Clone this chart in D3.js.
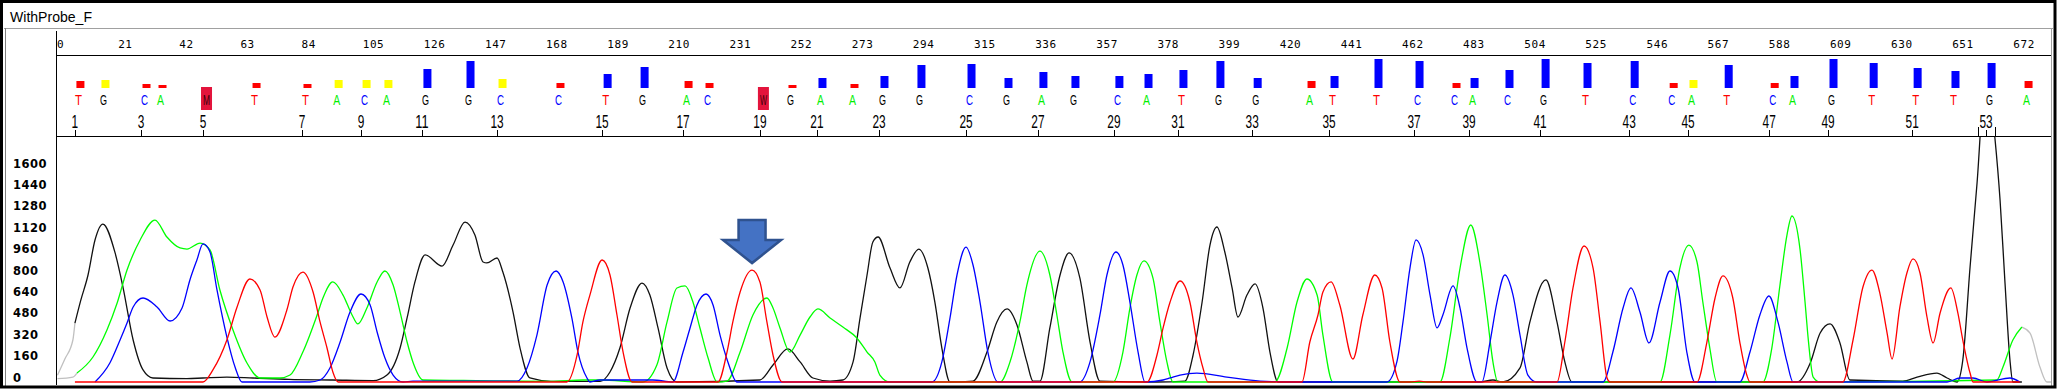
<!DOCTYPE html>
<html><head><meta charset="utf-8">
<script src="https://cdn.jsdelivr.net/npm/d3@7"></script>
<style>html,body{margin:0;padding:0;background:#fff;overflow:hidden}</style>
</head><body>
<svg id="c" width="2061" height="389"></svg>
<script>
// ---------------- data ----------------
const title = "WithProbe_F";
const rulerTicks = [0,21,42,63,84,105,126,147,168,189,210,231,252,273,294,315,336,357,378,399,420,441,462,483,504,525,546,567,588,609,630,651,672];
const yTicks = [0,160,320,480,640,800,960,1120,1280,1440,1600];
const bases = "TGCAMTTACAGGCCTGACWGAAGGCGAGCATGGATTCCACGTCCATCAGTTTGA".split("");
const basePos = [6.5,15.1,29.2,34.7,50.5,67.0,84.5,95.2,104.8,112.3,125.7,140.5,151.5,171.4,187.6,200.3,215.4,222.6,241.8,251.1,261.4,272.4,282.7,295.4,312.6,325.3,337.3,348.3,363.4,373.4,385.4,398.1,410.9,429.4,437.3,452.4,466.5,479.2,485.4,497.4,509.8,524.2,540.4,553.8,560.6,572.7,588.5,595.3,608.7,622.5,637.6,650.6,663.0,675.7];
const quality = [14,16,8,6,0,10,8,16,16,16,38,54,18,10,28,42,14,10,0,6,20,8,24,46,48,20,32,24,24,28,36,54,20,14,24,58,54,10,20,36,58,50,54,10,16,46,10,24,58,50,40,34,50,14];
const cursorScans = [660.3, 666.1];
const arrowPeak = [239.1, 837];

const traceG = [[6.5,440],[8.5,610],[11,800],[13.4,1062],[16.1,1181],[20.3,965],[23,710],[26.5,314],[29.9,90],[33.3,30],[45,25],[50.5,30],[58.7,37],[67.7,30],[80,20],[95,15],[108.9,10],[113.7,52],[118.2,254],[120.6,479],[123.3,748],[126.8,950],[132.6,867],[136.4,1024],[140.5,1196],[143.9,1099],[146.7,897],[148,890],[151.5,927],[153.5,822],[157,523],[159.4,254],[162.8,30],[170,5],[186.9,5],[190.3,75],[193.7,254],[197.2,553],[201.3,740],[204,650],[206.8,404],[209.9,105],[213.3,0],[241.8,15],[246.3,127],[251.4,247],[255.6,150],[260,30],[265.9,7],[270.3,15],[273.8,150],[276.2,479],[278.6,800],[280.6,1047],[282.4,1084],[286.5,852],[289.9,703],[293.3,897],[296.4,994],[299.5,852],[301.9,598],[304.3,254],[307.1,0],[315,7],[319.8,224],[323.2,449],[326.7,546],[330.1,426],[333.5,150],[335.6,7],[338,7],[341.4,404],[344.9,800],[348,965],[351.7,778],[355.2,299],[358.6,7],[378.2,0],[387.8,7],[390.6,202],[393.7,598],[396.4,1024],[398.8,1159],[401.5,972],[404,703],[406,486],[409.1,650],[411.9,733],[414.6,553],[417,224],[419.8,0],[489.1,0],[493.6,15],[497,0],[502.9,105],[506.3,449],[511.8,763],[515.6,449],[518.3,150],[520.7,0],[598.1,0],[602.6,142],[606,366],[609.4,434],[612.8,292],[616.2,15],[634.4,7],[639.3,37],[646.1,67],[649.6,30],[653,0],[655,164],[657.5,860],[659.9,1488],[663,2350],[666,1832],[667.8,1361],[669.5,740],[671.2,164],[672.2,0],[675.3,0]];

const traceA = [[7.2,67],[12.7,187],[17.5,389],[21,591],[24.4,837],[28.9,1062],[34,1211],[38.1,1084],[42.6,1002],[45,994],[49.5,1039],[52.9,987],[56.3,688],[60.8,389],[65.6,142],[70.1,30],[76.9,30],[80.4,52],[84.8,224],[89.7,501],[91.7,628],[95.1,748],[98.6,650],[101.7,501],[103.7,434],[106.8,553],[110.3,748],[113,830],[115.8,725],[118.2,523],[120.6,299],[122.6,150],[126.1,15],[140,12],[170,5],[181,15],[186.9,15],[201.6,0],[206.4,127],[209.9,449],[213.3,703],[216.1,718],[218.8,598],[221.2,404],[224,179],[227.1,0],[230.5,7],[235,224],[239.4,501],[244.2,628],[246.3,553],[248.7,404],[252.1,224],[255.6,351],[259,486],[261.7,546],[265.9,479],[270.3,411],[275.1,329],[278.6,224],[281.3,150],[283,52],[286.5,0],[324.3,0],[327.7,150],[331.1,449],[333.5,725],[338,979],[341.4,800],[343.8,501],[345.9,224],[349,0],[363.1,0],[366.5,224],[368.9,553],[371.3,800],[373.7,905],[376.8,778],[379.2,449],[381.6,150],[383.7,0],[418.7,0],[422.9,254],[426.3,598],[429.7,770],[433.2,650],[435.2,351],[438.6,0],[475.4,0],[478.8,329],[482.3,852],[486,1174],[489.1,897],[491.6,501],[493.6,150],[495.3,0],[551,0],[554.4,351],[557.8,852],[560.9,1024],[563.7,897],[565.7,598],[568.1,254],[570.5,0],[586.3,0],[589.4,254],[592.2,725],[594.6,1099],[596.3,1241],[599.1,990],[600.8,600],[602,300],[603.6,37],[606,0],[666.7,15],[668.8,112],[672.2,314],[675.3,411]];

const traceC = [[13.4,0],[18.5,142],[22,314],[24.4,441],[26.5,561],[29.9,628],[34.7,561],[39.2,456],[43.3,553],[46,763],[48.4,912],[50.5,1032],[52.9,972],[55.3,688],[58.7,336],[61.5,112],[63.9,0],[87.2,0],[90.7,15],[94.1,105],[97.6,299],[101,523],[104.8,658],[107.9,576],[110.3,374],[113,179],[115.8,52],[119.2,0],[122.6,7],[158.4,7],[161.8,105],[165.2,351],[168.7,725],[171.8,830],[174.2,748],[177.2,479],[179.3,224],[182.4,30],[183.4,0],[186.9,15],[205,15],[211.9,0],[215.4,224],[217.8,404],[220.2,576],[223.3,658],[225.7,576],[228.1,351],[230.8,150],[233.9,0],[300.9,0],[304.3,150],[307.1,479],[309.5,800],[312.6,1009],[315,875],[317.4,598],[320.1,224],[323.6,0],[351.7,0],[355.2,150],[358.6,501],[361,800],[364.1,972],[366.5,875],[368.9,598],[371.7,224],[374.1,0],[380.3,15],[382.7,30],[386.1,52],[391.9,67],[402.2,37],[413.6,7],[424.9,0],[457.2,0],[460.6,150],[462.7,449],[465.1,852],[467.2,1062],[469.6,950],[472,650],[474.4,404],[476.4,501],[479.9,718],[482.3,553],[484.7,254],[488.1,0],[489.8,0],[492.6,299],[495,598],[497.7,800],[500.5,650],[502.9,351],[505.6,52],[508.7,0],[531.4,0],[534.8,224],[538.3,553],[541,703],[544.1,523],[547.2,292],[551,598],[554.4,830],[557.2,703],[560.2,224],[563,0],[578.4,0],[581.9,224],[585.3,501],[588.4,643],[591.5,449],[594.6,150],[596.7,0],[649.6,0],[654,30],[658.5,30],[663.3,0],[671.2,30],[674.6,0]];

const traceT = [[6.5,0],[50.5,0],[53.9,90],[58.7,314],[62.2,561],[66.6,770],[70.1,688],[72.5,486],[75.2,336],[79.3,538],[81.4,710],[84.8,822],[88.3,673],[90.7,449],[93.1,254],[95.1,75],[96.9,0],[175.5,0],[179,202],[181,449],[183.4,650],[187.6,912],[190.3,800],[192.7,501],[194.8,224],[197.9,0],[227.4,0],[230.5,224],[232.5,449],[235,673],[239.1,837],[241.8,748],[244.2,449],[246.3,202],[249.4,0],[374.8,0],[378.2,202],[380.3,404],[382.7,598],[386.1,755],[389.5,598],[391.9,299],[394,105],[395.7,0],[428,0],[430.7,299],[433.5,501],[435.2,673],[438,748],[441,576],[445.5,172],[448.9,501],[453,800],[455.5,703],[458.2,299],[461.7,0],[465,0],[468.3,7],[471,0],[515.6,0],[518.3,299],[521.1,703],[524.9,1017],[528,852],[530.4,449],[532.8,30],[533.8,0],[563.7,0],[567.1,299],[569.9,628],[572.6,793],[576,628],[578.4,299],[580.8,52],[581.9,0],[613.8,0],[617.3,314],[620.7,710],[623.8,837],[626.5,665],[629,366],[630.7,172],[633.4,561],[635.8,815],[637.9,920],[640.3,815],[642.7,486],[644.8,292],[647.2,516],[650.9,703],[653.3,516],[655,314],[657.5,67],[658.5,0],[674.6,0]];

const trimmedG = [[0.5,50],[3,170],[5.8,314],[6.5,440]];
const trimmedA = [[0.5,25],[5.8,37],[7.2,67]];
const trimmedEnd = [[675.3,411],[678.1,366],[681.5,112],[683.9,0],[687,0]];

// ---------------- drawing ----------------
const svg = d3.select("#c");
const W = 2061, H = 389;
const plotL = 56, plotR = 2051, plotT = 136, plotB = 385;

const x = d3.scaleLinear().domain([0, 685.3]).range([plotL, plotR]);
const y = d3.scaleLinear().domain([0, 1600]).range([382, 168]);
const qh = d3.scaleLinear().domain([0, 60]).range([0, 30]);
const baseColor = {A:"#00ee00", C:"#0000ff", G:"#000000", T:"#ff0000"};
const qColor = q => q < 15 ? "#ff0000" : (q < 20 ? "#ffff00" : "#0000ff");

svg.append("rect").attr("width", W).attr("height", H).attr("fill", "#fff");

// inner frame lines
svg.append("line").attr("x1",4).attr("x2",2053).attr("y1",28.5).attr("y2",28.5).attr("stroke","#a0a0a0");
svg.append("line").attr("x1",5.5).attr("x2",5.5).attr("y1",28).attr("y2",386).attr("stroke","#808080");
svg.append("line").attr("x1",2051.5).attr("x2",2051.5).attr("y1",28).attr("y2",386).attr("stroke","#a0a0a0");

// title
svg.append("text").attr("x",10).attr("y",22).text(title)
  .attr("font-family","Liberation Sans, Arial, sans-serif").attr("font-size",14)
  .attr("textLength",82).attr("lengthAdjust","spacingAndGlyphs").attr("fill","#000");

// structural lines
svg.append("line").attr("x1",plotL+0.5).attr("x2",plotL+0.5).attr("y1",31).attr("y2",plotB).attr("stroke","#000");
svg.append("line").attr("x1",plotL).attr("x2",plotR).attr("y1",55.5).attr("y2",55.5).attr("stroke","#000");
svg.append("line").attr("x1",plotL).attr("x2",plotR).attr("y1",plotT+0.5).attr("y2",plotT+0.5).attr("stroke","#000");

// top ruler
svg.append("g").selectAll("text").data(rulerTicks).join("text")
  .attr("x", d => x(d) + 1).attr("y", 48).text(d => d)
  .attr("font-family","DejaVu Sans Mono, monospace").attr("font-size",11)
  .attr("letter-spacing","0.6px").attr("fill","#000");

// quality bars
svg.append("g").selectAll("rect").data(quality).join("rect")
  .attr("x", (d,i) => x(basePos[i]) + 1.5).attr("width", 8)
  .attr("y", d => 88 - qh(d)).attr("height", d => qh(d))
  .attr("fill", d => qColor(d));

// ambiguous-base boxes
const amb = bases.map((b,i) => ({b,i})).filter(d => !"ACGT".includes(d.b));
svg.append("g").selectAll("rect").data(amb).join("rect")
  .attr("x", d => x(basePos[d.i]) - 2).attr("width", 11)
  .attr("y", 87).attr("height", 23).attr("fill", "#e3143c");

// base letters
svg.append("g").selectAll("text").data(bases).join("text")
  .attr("x", (d,i) => x(basePos[i]) + 3.5).attr("y", 105)
  .attr("text-anchor","middle").text(d => d)
  .attr("font-family","Liberation Sans, Arial, sans-serif").attr("font-size",14)
  .attr("textLength",7).attr("lengthAdjust","spacingAndGlyphs")
  .attr("fill", d => baseColor[d] || "#3a0008");

// base index numbers + ticks
const idx = basePos.map((p,i) => ({p, n:i+1})).filter(d => d.n % 2 === 1);
svg.append("g").selectAll("line").data(idx).join("line")
  .attr("x1", d => Math.round(x(d.p))+0.5).attr("x2", d => Math.round(x(d.p))+0.5)
  .attr("y1",130).attr("y2",136).attr("stroke","#000");
svg.append("g").selectAll("text").data(idx).join("text")
  .attr("x", d => x(d.p)).attr("y", 128).attr("text-anchor","middle").text(d => d.n)
  .attr("font-family","Liberation Sans, Arial, sans-serif").attr("font-size",18)
  .attr("textLength", d => String(d.n).length*6.6).attr("lengthAdjust","spacingAndGlyphs")
  .attr("fill","#000");
svg.append("g").selectAll("line").data(cursorScans).join("line")
  .attr("x1", d => Math.round(x(d))+0.5).attr("x2", d => Math.round(x(d))+0.5)
  .attr("y1",127).attr("y2",136).attr("stroke","#000");

// y labels
svg.append("g").selectAll("text").data(yTicks).join("text")
  .attr("x", 13).attr("y", d => y(d) - 0.5).text(d => d)
  .attr("font-family","DejaVu Sans, sans-serif").attr("font-size",11.5).attr("font-weight","bold")
  .attr("letter-spacing","0.5px").attr("fill","#000");

// traces
svg.append("clipPath").attr("id","clip").append("rect")
  .attr("x",plotL+1).attr("y",plotT+1).attr("width",plotR-plotL-1).attr("height",plotB-plotT-1);
const line = d3.line().x(d => x(d[0])).y(d => y(d[1])).curve(d3.curveMonotoneX);
const tg = svg.append("g").attr("clip-path","url(#clip)");
const traces = [
  {d: trimmedG, c:"#c0c0c0"}, {d: trimmedA, c:"#c0c0c0"}, {d: trimmedEnd, c:"#c0c0c0"},
  {d: traceG, c:"#111111"}, {d: traceA, c:"#00ff00"}, {d: traceC, c:"#0000ff"}, {d: traceT, c:"#ff0000"}
];
tg.selectAll("path").data(traces).join("path")
  .attr("d", t => line(t.d)).attr("fill","none").attr("stroke", t => t.c).attr("stroke-width",1.3);

// annotation arrow
const cx = x(arrowPeak[0]), tipY = y(arrowPeak[1]) - 7;
const arrowPts = [[cx-13.5,tipY-43],[cx+13.5,tipY-43],[cx+13.5,tipY-23],[cx+29,tipY-23],[cx,tipY],[cx-29,tipY-23],[cx-13.5,tipY-23]];
svg.append("polygon").attr("points", arrowPts.map(p => p.join(",")).join(" "))
  .attr("fill","#4472c4").attr("stroke","#2f528f").attr("stroke-width",2.5).attr("stroke-linejoin","miter");

// outer frame
svg.append("rect").attr("x",1.5).attr("y",1.5).attr("width",2053.5).attr("height",385.5)
  .attr("fill","none").attr("stroke","#000").attr("stroke-width",3);
</script>
</body></html>
